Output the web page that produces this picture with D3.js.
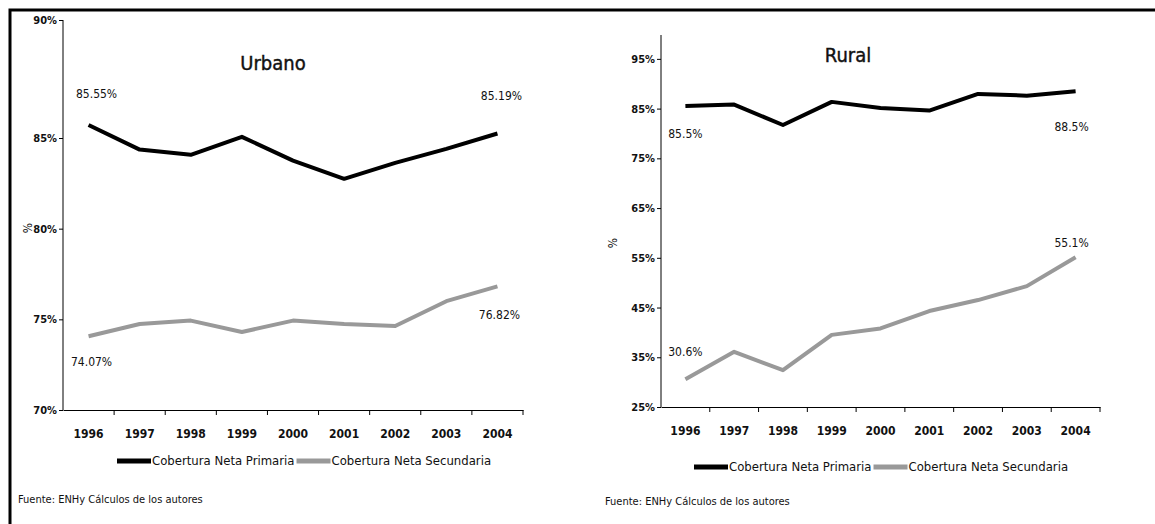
<!DOCTYPE html>
<html>
<head>
<meta charset="utf-8">
<script src="https://cdn.jsdelivr.net/npm/d3@7"></script>
<style>
  body { margin: 0; background: #fff; }
  svg text { font-family: "Liberation Sans Narrow", "Arial Narrow", "DejaVu Sans Condensed", sans-serif; fill: #111; }
</style>
</head>
<body>
<div id="chart"></div>
<script>
const years = ["1996", "1997", "1998", "1999", "2000", "2001", "2002", "2003", "2004"];

const urbanPrimaria = [0.8555, 0.8436, 0.8407, 0.8505, 0.8375, 0.8275, 0.8363, 0.8440, 0.8519];
const urbanSecundaria = [0.7407, 0.7474, 0.7493, 0.7430, 0.7493, 0.7474, 0.7463, 0.7600, 0.7682];

const ruralPrimaria = [0.855, 0.858, 0.817, 0.8635, 0.851, 0.846, 0.8796, 0.876, 0.885];
const ruralSecundaria = [0.306, 0.361, 0.324, 0.395, 0.408, 0.443, 0.465, 0.493, 0.551];

const urbanTicks = [0.70, 0.75, 0.80, 0.85, 0.90];
const ruralTicks = [0.25, 0.35, 0.45, 0.55, 0.65, 0.75, 0.85, 0.95];

const seriesNames = ["Cobertura Neta Primaria", "Cobertura Neta Secundaria"];
const colors = ["#000000", "#999999"];

const width = 1155, height = 524;

const svg = d3.select("#chart")
    .append("svg")
    .attr("width", width)
    .attr("height", height);

// outer frame (only left and top edges are visible in the picture)
svg.append("path")
    .attr("d", "M10,524 V10 H1155")
    .attr("fill", "none")
    .attr("stroke", "#000")
    .attr("stroke-width", 3);

function drawPanel(p) {
    const g = svg.append("g");

    let x = d3.scaleBand()
        .domain(years)
        .range([p.left, p.right]);

    let y = d3.scaleLinear()
        .domain(p.yDomain)
        .range(p.yRange);

    // y axis
    g.append("g")
        .attr("transform", `translate(${p.left},0)`)
        .call(d3.axisLeft(y).tickValues(p.ticks).tickFormat(d3.format(".0%")).tickSize(4).tickSizeOuter(0))
        .call(a => a.select(".domain").attr("d", `M0,${p.axisTop}V${y(p.yDomain[0])}`))
        .call(a => a.selectAll("text").attr("font-size", 11).attr("font-weight", "bold").attr("x", -6))
        .call(a => a.attr("font-family", null));

    // x axis with ticks between categories
    const xAxisY = y(p.yDomain[0]);
    g.append("g")
        .attr("transform", `translate(0,${xAxisY})`)
        .call(d3.axisBottom(x).tickSize(0).tickPadding(19))
        .call(a => a.selectAll("text").attr("font-size", 12).attr("font-weight", "bold"))
        .call(a => a.attr("font-family", null));

    g.selectAll(".xtick")
        .data(years.slice(1).concat(["end"]))
        .join("line")
        .attr("x1", (d, i) => p.left + (i + 1) * x.bandwidth())
        .attr("x2", (d, i) => p.left + (i + 1) * x.bandwidth())
        .attr("y1", xAxisY)
        .attr("y2", xAxisY + 5)
        .attr("stroke", "#000");

    // title
    g.append("text")
        .attr("x", p.titleX)
        .attr("y", p.titleY)
        .attr("text-anchor", "middle")
        .attr("font-size", 20)
        .attr("stroke", "#111")
        .attr("stroke-width", 0.4)
        .text(p.title);

    // y label
    g.append("text")
        .attr("transform", `translate(${p.yLabelX},${p.yLabelY}) rotate(-90)`)
        .attr("text-anchor", "middle")
        .attr("font-size", 12)
        .text("%");

    // lines
    const line = d3.line()
        .x((d, i) => x(years[i]) + x.bandwidth() / 2)
        .y(d => y(d));

    [p.primaria, p.secundaria].forEach((s, k) => {
        g.append("path")
            .datum(s)
            .attr("fill", "none")
            .attr("stroke", colors[k])
            .attr("stroke-width", 4)
            .attr("stroke-linejoin", "round")
            .attr("d", line);
    });

    // end labels
    const fmt = d3.format(p.labelFormat);
    p.labels.forEach(l => {
        const s = l.series === 0 ? p.primaria : p.secundaria;
        g.append("text")
            .attr("x", x(years[l.idx]) + x.bandwidth() / 2 + l.dx)
            .attr("y", y(s[l.idx]) + l.dy)
            .attr("text-anchor", "middle")
            .attr("dominant-baseline", "middle")
            .attr("font-size", 12)
            .text(fmt(s[l.idx]));
    });

    // legend
    const lg = g.append("g").attr("transform", `translate(${p.legendX},${p.legendY})`);
    let cx = 0;
    seriesNames.forEach((name, k) => {
        lg.append("line")
            .attr("x1", cx).attr("x2", cx + 34)
            .attr("y1", 0).attr("y2", 0)
            .attr("stroke", colors[k])
            .attr("stroke-width", 5);
        const t = lg.append("text")
            .attr("x", cx + 35)
            .attr("y", 0)
            .attr("dominant-baseline", "middle")
            .attr("font-size", 13)
            .text(name);
        cx += 35 + t.node().getComputedTextLength() + 2;
    });

    // source note
    g.append("text")
        .attr("x", p.sourceX)
        .attr("y", p.sourceY)
        .attr("dominant-baseline", "middle")
        .attr("font-size", 11)
        .text("Fuente: ENHy Cálculos de los autores");
}

drawPanel({
    title: "Urbano",
    primaria: urbanPrimaria,
    secundaria: urbanSecundaria,
    ticks: urbanTicks,
    left: 63, right: 523,
    yDomain: [0.70, 0.85, 0.90],
    yRange: [410, 138, 20],
    axisTop: 20,
    titleX: 273, titleY: 70,
    yLabelX: 32, yLabelY: 228,
    labelFormat: ".2%",
    labels: [
        {series: 0, idx: 0, dx: 8, dy: -31},
        {series: 0, idx: 8, dx: 4, dy: -37},
        {series: 1, idx: 0, dx: 3, dy: 26},
        {series: 1, idx: 8, dx: 2, dy: 29}
    ],
    legendX: 117, legendY: 461,
    sourceX: 18, sourceY: 500
});

drawPanel({
    title: "Rural",
    primaria: ruralPrimaria,
    secundaria: ruralSecundaria,
    ticks: ruralTicks,
    left: 661, right: 1100,
    yDomain: [0.25, 1.0],
    yRange: [407, 34],
    axisTop: 35,
    titleX: 848, titleY: 62,
    yLabelX: 617, yLabelY: 243,
    labelFormat: ".1%",
    labels: [
        {series: 0, idx: 0, dx: 0, dy: 28},
        {series: 0, idx: 8, dx: -4, dy: 36},
        {series: 1, idx: 0, dx: 0, dy: -27},
        {series: 1, idx: 8, dx: -4, dy: -14}
    ],
    legendX: 694, legendY: 467,
    sourceX: 605, sourceY: 502
});
</script>
</body>
</html>
